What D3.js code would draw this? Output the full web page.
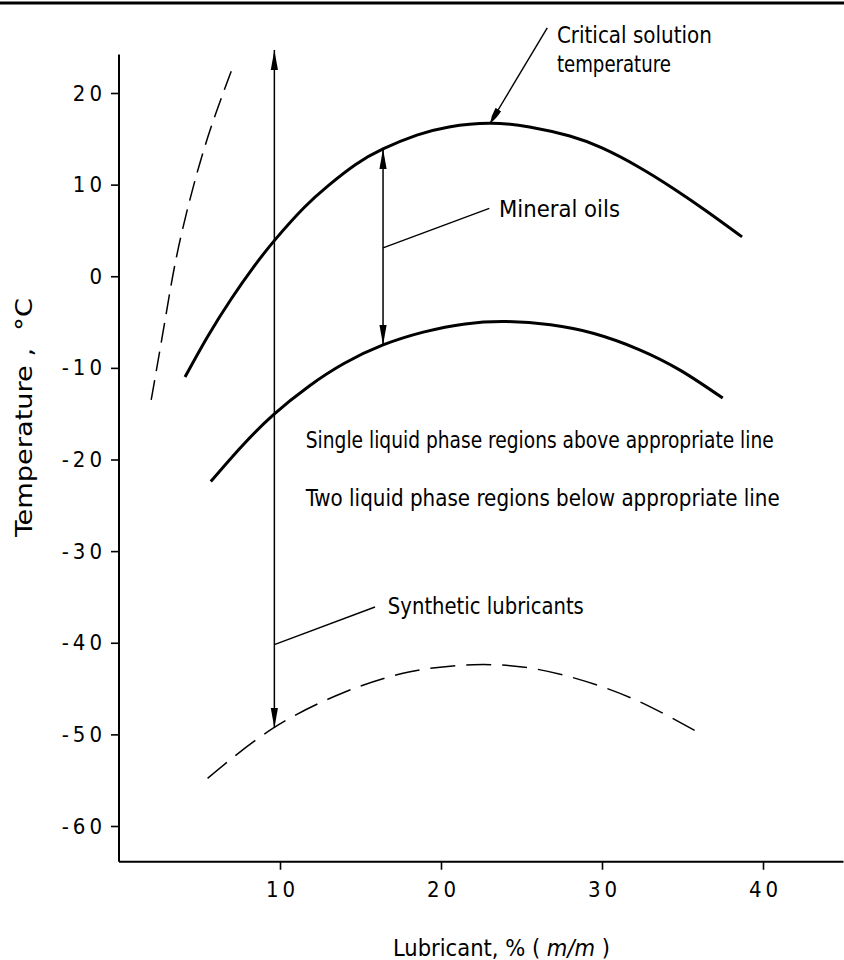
<!DOCTYPE html>
<html><head><meta charset="utf-8">
<script src="https://cdn.jsdelivr.net/npm/d3@7"></script>
<style>
html,body{margin:0;padding:0;background:#fff;}
svg text{font-family:"Liberation Sans Narrow","DejaVu Sans Condensed","Roboto Condensed",sans-serif;fill:#000;}
</style></head><body>
<svg id="chart" width="844" height="960"></svg>
<script>
// ---- data ----
const xTicks = [10, 20, 30, 40];
const yTicks = [20, 10, 0, -10, -20, -30, -40, -50, -60];
const xExtent = [0, 45];
const yExtent = [-63.9, 24.2];

const mineralUpper = [[4.1,-11.0],[5.5,-6.6],[7.0,-2.4],[8.4,1.1],[9.7,4.0],[11.5,7.5],[13.0,9.9],[14.7,12.2],[16.4,13.9],[18.5,15.4],[20.5,16.3],[23.0,16.7],[25.5,16.3],[28.0,15.3],[30.0,14.0],[32.3,11.9],[34.5,9.5],[36.5,7.1],[38.7,4.3]];
const mineralLower = [[5.7,-22.4],[7.6,-18.6],[9.6,-15.1],[11.8,-12.0],[14.0,-9.5],[16.4,-7.5],[18.9,-6.1],[21.5,-5.2],[24.1,-4.95],[26.8,-5.3],[29.5,-6.25],[32.3,-8.0],[34.9,-10.3],[37.5,-13.3]];
const syntheticLower = [[5.5,-54.8],[9.6,-49.3],[14.0,-45.4],[18.0,-43.2],[22.0,-42.4],[26.0,-42.9],[30.0,-44.8],[33.0,-47.0],[36.0,-49.8]];
const syntheticUpper = [[2.0,-13.5],[2.9,-4.4],[3.7,3.2],[4.9,11.6],[6.0,17.7],[7.06,22.8]];

const rangeArrows = [
  {x: 9.65, top: 24.7, bottom: -49.3},
  {x: 16.4, top: 13.9, bottom: -7.5}
];
const leaders = [
  {label: ["Mineral oils"], widths: [121], from: [16.4, 3.1], to: [23.0, 7.4], text: [23.6, 6.5], arrow: false},
  {label: ["Synthetic lubricants"], widths: [196], from: [9.65, -40.2], to: [15.9, -36.1], text: [16.7, -36.9], arrow: false},
  {label: ["Critical solution", "temperature"], widths: [155, 114], from: [26.6, 27.1], to: [23.05, 16.7], text: [27.2, 25.5], arrow: true}
];
const notes = [
  {text: "Single liquid phase regions above appropriate line", width: 468, at: [11.6, -18.7]},
  {text: "Two liquid phase regions below appropriate line", width: 474, at: [11.6, -25.05]}
];
const xTitle = ["Lubricant, % ( ", "m/m", " )"];
const yTitle = "Temperature ,  °C";

// ---- scales ----
const svg = d3.select("#chart");
const x = d3.scaleLinear().domain([10, 40]).range([280, 763]);
const y = d3.scaleLinear().domain([-60, 20]).range([826, 93]);
const FS = 23;

// markers
const defs = svg.append("defs");
defs.append("marker").attr("id","ah").attr("viewBox","0 -4 20 8").attr("refX",20).attr("refY",0)
  .attr("markerWidth",20).attr("markerHeight",8).attr("markerUnits","userSpaceOnUse")
  .attr("orient","auto-start-reverse")
  .append("path").attr("d","M0,-3.6L20,0L0,3.6Z").attr("fill","#000");
defs.append("marker").attr("id","ah2").attr("viewBox","0 -4 16 8").attr("refX",16).attr("refY",0)
  .attr("markerWidth",16).attr("markerHeight",8).attr("markerUnits","userSpaceOnUse")
  .attr("orient","auto")
  .append("path").attr("d","M0,-3.2Q9,-3 16,0Q9,3 0,3.2Z").attr("fill","#000");

// top border
svg.append("line").attr("x1",0).attr("x2",844).attr("y1",3).attr("y2",3)
  .attr("stroke","#000").attr("stroke-width",3);

// axes
const gx = svg.append("g").attr("transform",`translate(0,${y(yExtent[0])})`)
  .call(d3.axisBottom(x).tickValues(xTicks).tickSize(8).tickPadding(12).tickFormat(d3.format("d")));
const gy = svg.append("g").attr("transform",`translate(${x(xExtent[0])},0)`)
  .call(d3.axisLeft(y).tickValues(yTicks).tickSize(8).tickPadding(12).tickFormat(d => d < 0 ? "-" + Math.abs(d) : String(d)));
[gx, gy].forEach(g => {
  g.select(".domain").remove();
  g.selectAll(".tick line").attr("stroke","#000").attr("stroke-width",1.6);
  g.selectAll(".tick text").attr("font-size",22).style("letter-spacing","4px")
    .attr("font-family",null).attr("fill","#000");
});
gx.selectAll(".tick text").attr("dx", 2).attr("dy","0.71em");
gy.selectAll(".tick text").attr("dx", 7);

svg.append("line").attr("x1",x(xExtent[0])).attr("x2",x(xExtent[1]))
  .attr("y1",y(yExtent[0])).attr("y2",y(yExtent[0])).attr("stroke","#000").attr("stroke-width",2);
svg.append("line").attr("x1",x(xExtent[0])).attr("x2",x(xExtent[0]))
  .attr("y1",y(yExtent[0])).attr("y2",y(yExtent[1])).attr("stroke","#000").attr("stroke-width",2);

// curves
const line = d3.line().x(d => x(d[0])).y(d => y(d[1])).curve(d3.curveNatural);
svg.append("path").attr("d",line(mineralUpper)).attr("fill","none").attr("stroke","#000").attr("stroke-width",3);
svg.append("path").attr("d",line(mineralLower)).attr("fill","none").attr("stroke","#000").attr("stroke-width",3);
svg.append("path").attr("d",line(syntheticLower)).attr("fill","none").attr("stroke","#000").attr("stroke-width",1.5)
  .attr("stroke-dasharray","25,11");
svg.append("path").attr("d",line(syntheticUpper)).attr("fill","none").attr("stroke","#000").attr("stroke-width",1.5)
  .attr("stroke-dasharray","20,9");

// range arrows
rangeArrows.forEach(a => {
  svg.append("line").attr("x1",x(a.x)).attr("x2",x(a.x)).attr("y1",y(a.top)).attr("y2",y(a.bottom))
    .attr("stroke","#000").attr("stroke-width",1.5)
    .attr("marker-start","url(#ah)").attr("marker-end","url(#ah)");
});

// leaders & labels
leaders.forEach(l => {
  const ln = svg.append("line").attr("x1",x(l.from[0])).attr("y1",y(l.from[1]))
    .attr("x2",x(l.to[0])).attr("y2",y(l.to[1])).attr("stroke","#000").attr("stroke-width",1.4);
  if (l.arrow) ln.attr("marker-end","url(#ah2)");
  l.label.forEach((s, i) => {
    svg.append("text").attr("x",x(l.text[0])).attr("y",y(l.text[1]) + i*29)
      .attr("font-size",FS).attr("textLength",l.widths[i]).attr("lengthAdjust","spacingAndGlyphs").text(s);
  });
});
notes.forEach(n => {
  svg.append("text").attr("x",x(n.at[0])).attr("y",y(n.at[1]))
    .attr("font-size",FS).attr("textLength",n.width).attr("lengthAdjust","spacingAndGlyphs").text(n.text);
});

// axis titles
const xt = svg.append("text").attr("x",393).attr("y",956).attr("font-size",FS)
  .attr("textLength",217).attr("lengthAdjust","spacingAndGlyphs").style("white-space","pre");
xt.append("tspan").text(xTitle[0]);
xt.append("tspan").attr("font-style","italic").text(xTitle[1]);
xt.append("tspan").text(xTitle[2]);
svg.append("text").attr("transform","translate(32,537) rotate(-90)").attr("font-size",FS)
  .attr("textLength",239).attr("lengthAdjust","spacingAndGlyphs").style("white-space","pre").text(yTitle);
</script>
</body></html>
